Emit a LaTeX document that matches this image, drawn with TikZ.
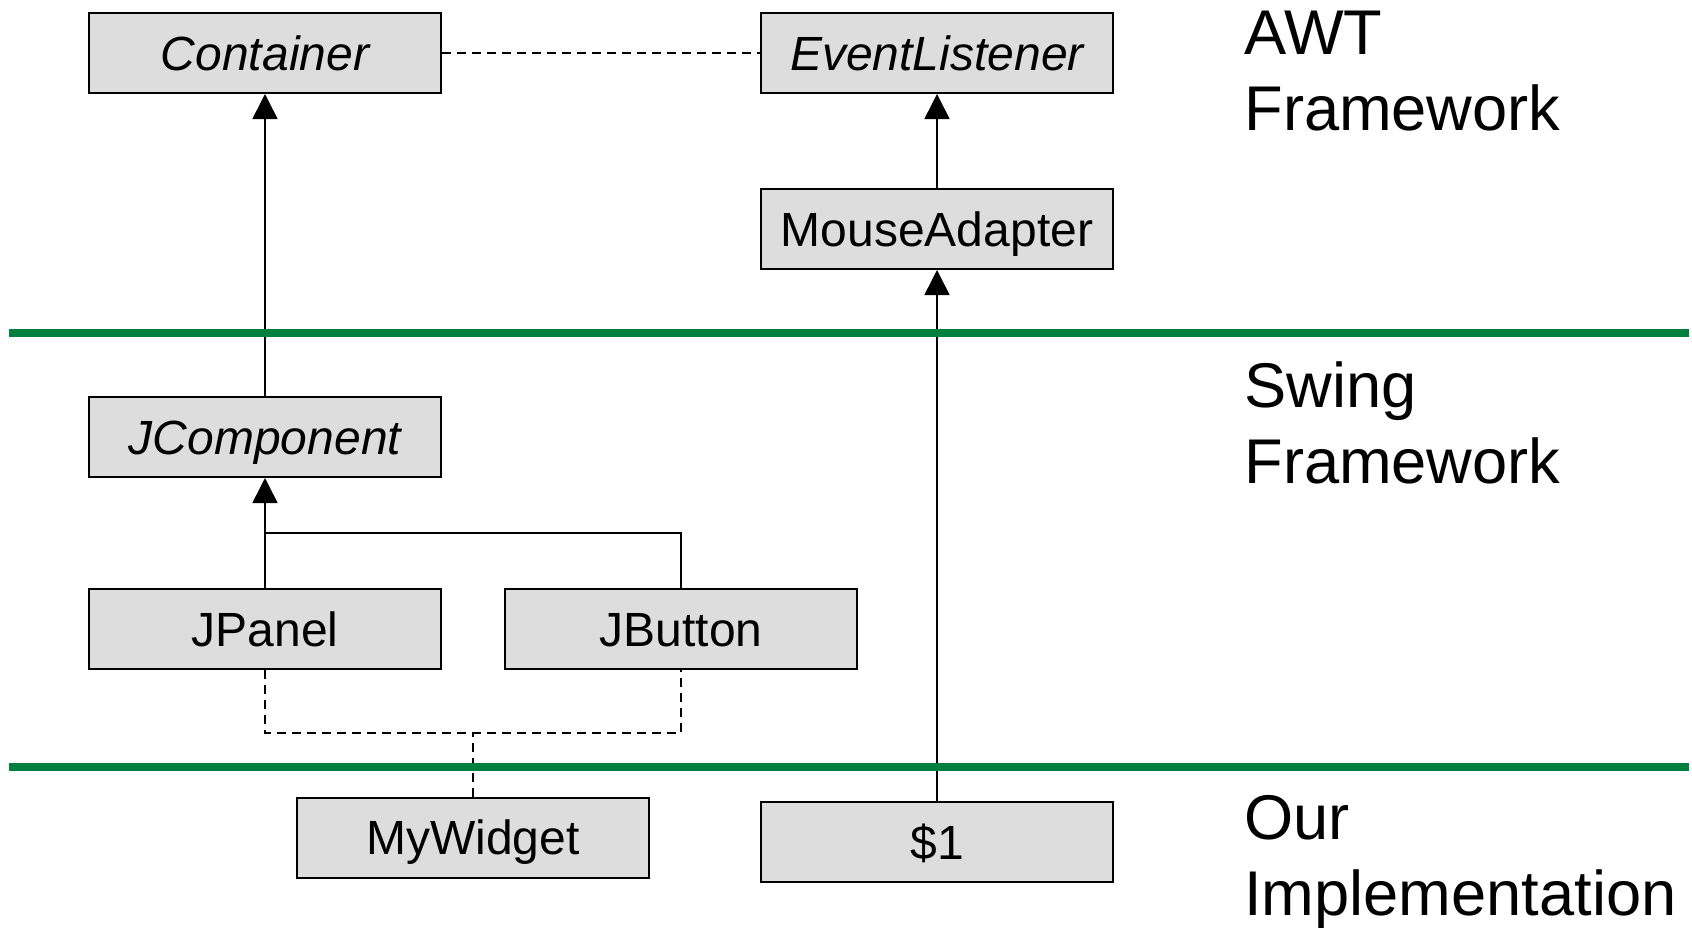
\documentclass[tikz,border=0pt]{standalone}
\usepackage{fontspec}
\setmainfont{Liberation Sans}
\usetikzlibrary{arrows.meta}
\definecolor{boxgray}{RGB}{221,221,221}
\definecolor{layergreen}{RGB}{0,128,64}
\tikzset{
  cls/.style={draw, line width=1pt, fill=boxgray, minimum width=176pt, minimum height=40pt,
    inner sep=0pt, font=\fontsize{24}{28}\selectfont, text height=17.2pt, text depth=0pt},
  abstractcls/.style={cls, font=\fontsize{24}{28}\selectfont\itshape},
  inh/.style={line width=0.8pt, -{Triangle[width=12.5pt,length=12.5pt]}},
  dep/.style={line width=0.8pt, dash pattern=on 4.5pt off 3pt},
  layer/.style={line width=4pt, draw=layergreen},
  lbl/.style={anchor=base west, inner sep=0pt, font=\fontsize{31.6}{38}\selectfont}
}
\begin{document}
\begin{tikzpicture}[x=0.5pt,y=-0.5pt]
\useasboundingbox (0,0) rectangle (1692,927);
% classes
\node[abstractcls] (container) at (265,53) {Container};
\node[abstractcls] (listener) at (937,53) {EventListener};
\node[cls] (adapter) at (937,229) {MouseAdapter};
\node[abstractcls] (jcomp) at (265,437) {JComponent};
\node[cls] (jpanel) at (265,629) {JPanel};
\node[cls] (jbutton) at (681,629) {JButton};
\node[cls] (widget) at (473,837.5) {MyWidget};
\node[cls] (anon) at (937,842) {\$1};
% helper coordinates
\coordinate (join) at (265,533);
\coordinate (djoin) at (473,733);
% connectors
\draw[dep] (container.east) -- (listener.west);
\draw[inh] (jcomp.north) -- (container.south);
\draw[inh] (adapter.north) -- (listener.south);
\draw[inh] (anon.north) -- (adapter.south);
\draw[inh] (jpanel.north) -- (jcomp.south);
\draw[line width=0.8pt] (jbutton.north) |- (join);
\draw[dep] (jpanel.south) |- (djoin) -| (jbutton.south);
\draw[dep] (widget.north) -- (djoin);
% layer separators
\coordinate (l1a) at (9,333);
\coordinate (l1b) at (1689,333);
\coordinate (l2a) at (9,767);
\coordinate (l2b) at (1689,767);
\draw[layer] (l1a) -- (l1b);
\draw[layer] (l2a) -- (l2b);
% layer labels
\node[lbl] (awt) at (1244,54) {AWT};
\node[lbl] (awtf) at (1244,130) {Framework};
\node[lbl] (swing) at (1244,407) {Swing};
\node[lbl] (swingf) at (1244,483) {Framework};
\node[lbl] (our) at (1244,839) {Our};
\node[lbl] (impl) at (1244,915) {Implementation};
\end{tikzpicture}
\end{document}
